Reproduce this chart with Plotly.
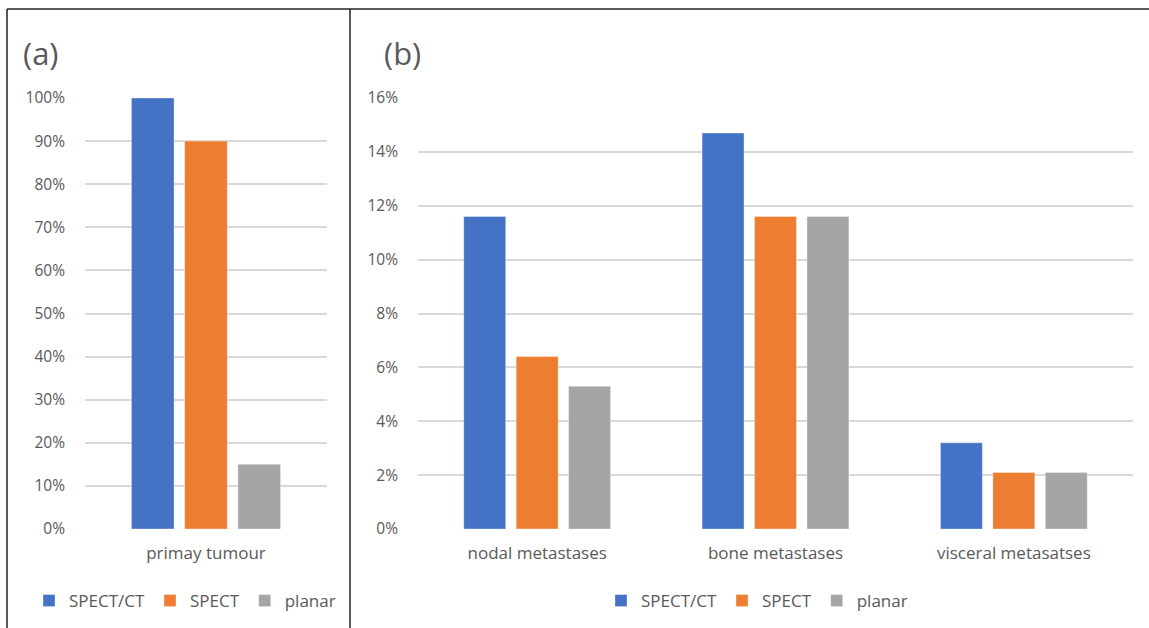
import plotly.graph_objects as go

# Detection rates by imaging modality
series_names = ["SPECT/CT", "SPECT", "planar"]
series_colors = ["#4472C4", "#ED7D31", "#A5A5A5"]

primary_categories = ["primay tumour"]
primary_values = {
    "SPECT/CT": [100],
    "SPECT": [90],
    "planar": [15],
}

meta_categories = ["nodal metastases", "bone metastases", "visceral metasatses"]
meta_values = {
    "SPECT/CT": [11.6, 14.7, 3.2],
    "SPECT": [6.4, 11.6, 2.1],
    "planar": [5.3, 11.6, 2.1],
}

primary_ticks = list(range(0, 101, 10))
meta_ticks = list(range(0, 17, 2))

W, H = 1149, 628
FONT = "Open Sans"
TXT = "#595959"
GRID = "#D9D9D9"

fig = go.Figure()

for name, color in zip(series_names, series_colors):
    fig.add_trace(go.Bar(
        x=primary_categories, y=primary_values[name], name=name,
        marker=dict(color=color, line=dict(color="rgba(255,255,255,0.35)", width=1)),
        xaxis="x", yaxis="y", legend="legend",
    ))
for name, color in zip(series_names, series_colors):
    fig.add_trace(go.Bar(
        x=meta_categories, y=meta_values[name], name=name,
        marker=dict(color=color, line=dict(color="rgba(255,255,255,0.35)", width=1)),
        xaxis="x2", yaxis="y2", legend="legend2",
    ))

def px_x(v):
    return v / W

def px_y(v):
    return 1 - v / H

y_dom = [px_y(529), px_y(98)]

ytick_font = dict(family=FONT, size=15.5, color=TXT)
xtick_font = dict(family=FONT, size=17, color=TXT)
legend_font = dict(family=FONT, size=17, color=TXT)

fig.update_layout(
    width=W, height=H,
    margin=dict(l=0, r=0, t=0, b=0, autoexpand=False),
    paper_bgcolor="white", plot_bgcolor="white",
    barmode="group", bargap=0.34, bargroupgap=0.2,
    font=dict(family=FONT, color=TXT),
    xaxis=dict(domain=[px_x(85), px_x(327)], anchor="y", showgrid=False,
               tickfont=xtick_font, ticklabelstandoff=12,
               showline=False, ticks="", automargin=False),
    yaxis=dict(domain=y_dom, anchor="x", range=[0, 100], tickvals=primary_ticks,
               ticktext=[f"{t}%" for t in primary_ticks], showgrid=True,
               gridcolor=GRID, gridwidth=2, zeroline=False, showline=False,
               ticks="", tickfont=ytick_font, ticklabelstandoff=19, automargin=False),
    xaxis2=dict(domain=[px_x(418), px_x(1133)], anchor="y2", showgrid=False,
                tickfont=xtick_font, ticklabelstandoff=12,
                showline=False, ticks="", automargin=False),
    yaxis2=dict(domain=y_dom, anchor="x2", range=[0, 16], tickvals=meta_ticks,
                ticktext=[f"{t}%" for t in meta_ticks], showgrid=True,
                gridcolor=GRID, gridwidth=2, zeroline=False, showline=False,
                ticks="", tickfont=ytick_font, ticklabelstandoff=19, automargin=False),
    legend=dict(orientation="h", x=px_x(185), xanchor="center", y=px_y(601),
                yanchor="middle", font=legend_font,
                itemclick=False, traceorder="normal", bgcolor="rgba(0,0,0,0)"),
    legend2=dict(orientation="h", x=px_x(757), xanchor="center", y=px_y(601),
                 yanchor="middle", font=legend_font,
                 itemclick=False, traceorder="normal", bgcolor="rgba(0,0,0,0)"),
    showlegend=True,
)

# panel labels
fig.add_annotation(text="(a)", x=px_x(21), y=px_y(53), xref="paper", yref="paper",
                   xanchor="left", yanchor="middle", showarrow=False,
                   font=dict(family=FONT, size=31, color=TXT))
fig.add_annotation(text="(b)", x=px_x(382), y=px_y(53), xref="paper", yref="paper",
                   xanchor="left", yanchor="middle", showarrow=False,
                   font=dict(family=FONT, size=31, color=TXT))

# frame lines
frame = dict(color="#222222", width=1.5)
fig.add_shape(type="line", xref="paper", yref="paper",
              x0=px_x(7), x1=1, y0=px_y(9), y1=px_y(9), line=frame)
fig.add_shape(type="line", xref="paper", yref="paper",
              x0=px_x(7), x1=px_x(7), y0=px_y(9), y1=0, line=frame)
fig.add_shape(type="line", xref="paper", yref="paper",
              x0=px_x(350), x1=px_x(350), y0=px_y(9), y1=0, line=frame)

fig.write_html("out.html")
